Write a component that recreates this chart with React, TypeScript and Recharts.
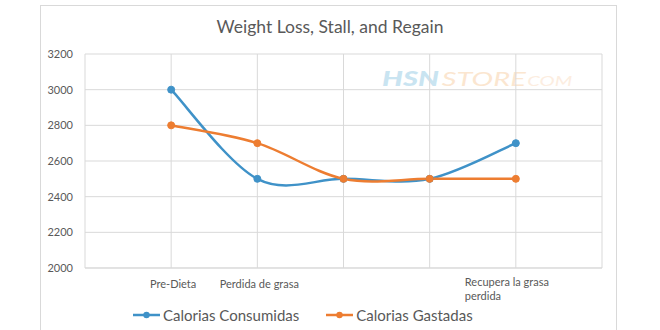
import React from "react";
import { LineChart, Line, XAxis, YAxis, CartesianGrid, Legend } from "recharts";

// categories: blank slots at both ends and two unlabeled middle points
const categories = ["", "Pre-Dieta", "Perdida de grasa", "", "", "Recupera la grasa perdida", ""];
const consumidas = [null, 3000, 2500, 2500, 2500, 2700, null];
const gastadas = [null, 2800, 2700, 2500, 2500, 2500, null];
const yTicks = [2000, 2200, 2400, 2600, 2800, 3000, 3200];

const seriesNames = ["Calorias Consumidas", "Calorias Gastadas"];
const COLORS = ["#3f92c8", "#ed7d31"];

const FONT = "Lato, 'Open Sans', sans-serif";
const TEXT = "#595959";
const GRID = "#d9d9d9";

const data = categories.map((name, i) => ({
  name: `${i}:${name}`,
  consumidas: consumidas[i],
  gastadas: gastadas[i],
}));

// Excel-style smoothed line (uniform Catmull-Rom)
function smoothCurve(context: any) {
  let pts: number[][] = [];
  return {
    areaStart() {},
    areaEnd() {},
    lineStart() {
      pts = [];
    },
    point(x: number, y: number) {
      pts.push([+x, +y]);
    },
    lineEnd() {
      if (!pts.length) return;
      context.moveTo(pts[0][0], pts[0][1]);
      for (let i = 0; i < pts.length - 1; i++) {
        const p0 = pts[i - 1] || pts[i];
        const p1 = pts[i];
        const p2 = pts[i + 1];
        const p3 = pts[i + 2] || pts[i + 1];
        context.bezierCurveTo(
          p1[0] + (p2[0] - p0[0]) / 6,
          p1[1] + (p2[1] - p0[1]) / 6,
          p2[0] - (p3[0] - p1[0]) / 6,
          p2[1] - (p3[1] - p1[1]) / 6,
          p2[0],
          p2[1]
        );
      }
    },
  };
}

const CategoryTick = ({ x, y, payload }: any) => {
  const label = String(payload.value).split(":").slice(1).join(":");
  if (!label) return null;
  if (label.length > 18) {
    // wrap long labels onto two lines
    const words = label.split(" ");
    const first = words.slice(0, 3).join(" ");
    const rest = words.slice(3).join(" ");
    return (
      <text x={x - 51} y={y + 10} fill={TEXT} fontSize={11} fontFamily={FONT} textAnchor="start">
        <tspan x={x - 51}>{first}</tspan>
        <tspan x={x - 51} dy={14}>{rest}</tspan>
      </text>
    );
  }
  return (
    <text x={x + 2} y={y + 12} fill={TEXT} fontSize={11} fontFamily={FONT} textAnchor="middle">
      {label}
    </text>
  );
};

const LegendContent = () => (
  <div style={{ display: "flex", paddingLeft: 133, paddingTop: 8, gap: 27, fontFamily: FONT }}>
    {seriesNames.map((name, i) => (
      <div key={name} style={{ display: "flex", alignItems: "center" }}>
        <svg width={27} height={10}>
          <line x1={0} y1={5} x2={27} y2={5} stroke={COLORS[i]} strokeWidth={2.5} />
          <circle cx={13.5} cy={5} r={3.2} fill={COLORS[i]} />
        </svg>
        <span style={{ marginLeft: 3, fontSize: 15, color: TEXT }}>{name}</span>
      </div>
    ))}
  </div>
);

export default function App() {
  return (
    <div style={{ position: "absolute", left: 0, top: 0, width: 660, height: 330, overflow: "hidden", background: "#fff" }}>
      <div
        style={{
          position: "absolute",
          left: 40,
          top: 5,
          width: 575,
          height: 340,
          border: `1px solid ${GRID}`,
        }}
      />
      <div
        style={{
          position: "absolute",
          left: 0,
          width: 660,
          top: 16,
          textAlign: "center",
          fontFamily: FONT,
          fontSize: 17.5,
          color: TEXT,
        }}
      >
        Weight Loss, Stall, and Regain
      </div>
      <div
        style={{
          position: "absolute",
          left: 382,
          top: 66,
          fontFamily: FONT,
          fontStyle: "italic",
          whiteSpace: "nowrap",
          lineHeight: "24px",
          transform: "scaleX(1.45)",
          transformOrigin: "left center",
        }}
      >
        <span style={{ fontSize: 20, fontWeight: 900, color: "#c9e4f1" }}>HSN</span>
        <span style={{ fontSize: 20, fontWeight: 400, color: "#fbe6d0", marginLeft: 2 }}>STORE</span>
        <span style={{ fontSize: 14, fontWeight: 400, color: "#fcede0", marginLeft: 1 }}>COM</span>
      </div>
      <div style={{ position: "absolute", left: 0, top: 0 }}>
        <LineChart width={660} height={330} data={data} margin={{ top: 54, right: 58, bottom: 0, left: 0 }}>
          <CartesianGrid stroke={GRID} strokeWidth={1} />
          <XAxis
            dataKey="name"
            interval={0}
            tick={<CategoryTick />}
            tickLine={false}
            axisLine={{ stroke: GRID }}
            height={30}
            padding={{ left: 0, right: 0 }}
          />
          <YAxis
            domain={[2000, 3200]}
            ticks={yTicks}
            width={85}
            tickLine={false}
            axisLine={false}
            tickSize={0}
            tickMargin={12}
            tick={{ fill: TEXT, fontSize: 11, fontFamily: FONT }}
          />
          <Legend verticalAlign="bottom" height={32} content={<LegendContent />} />
          <Line
            dataKey="consumidas"
            name={seriesNames[0]}
            type={smoothCurve as any}
            stroke={COLORS[0]}
            strokeWidth={2.5}
            dot={{ r: 3.5, fill: COLORS[0], stroke: COLORS[0], strokeWidth: 1 }}
            isAnimationActive={false}
          />
          <Line
            dataKey="gastadas"
            name={seriesNames[1]}
            type={smoothCurve as any}
            stroke={COLORS[1]}
            strokeWidth={2.5}
            dot={{ r: 3.5, fill: COLORS[1], stroke: COLORS[1], strokeWidth: 1 }}
            isAnimationActive={false}
          />
        </LineChart>
      </div>
    </div>
  );
}
